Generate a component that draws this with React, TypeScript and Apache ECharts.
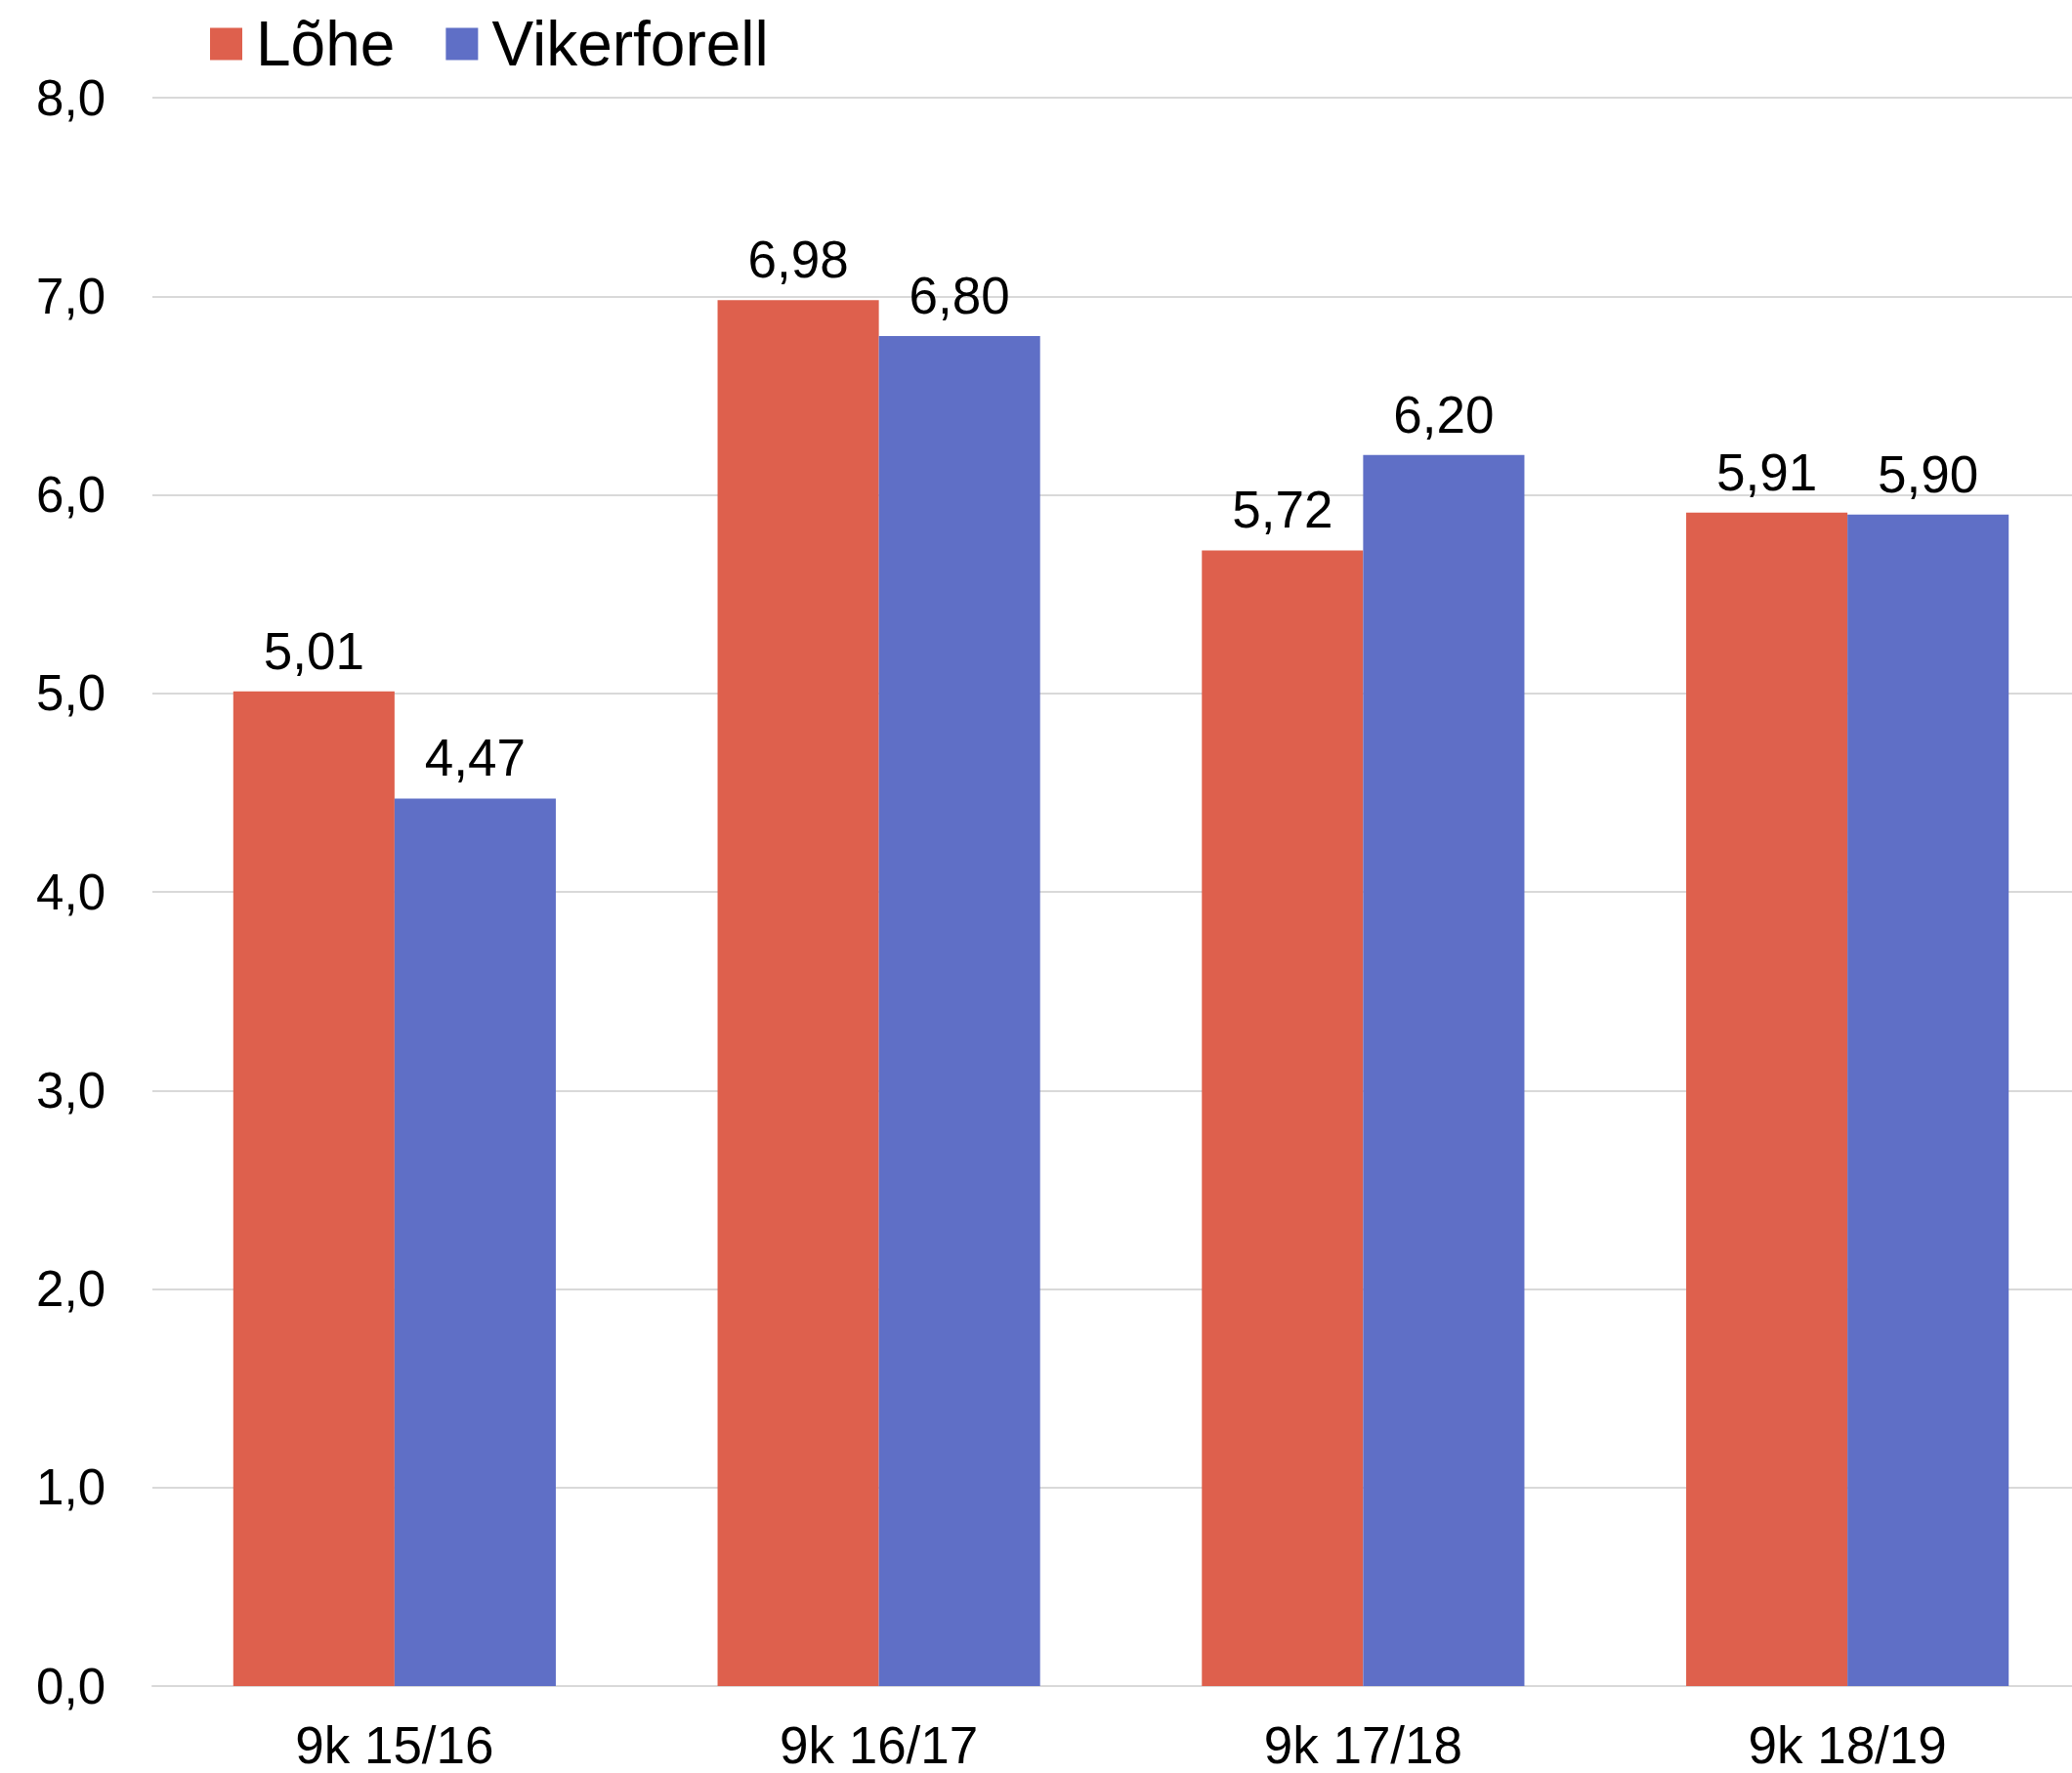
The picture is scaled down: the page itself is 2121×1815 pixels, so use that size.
import React, { useEffect, useRef } from "react";
import * as echarts from "echarts";

const categories = ["9k 15/16", "9k 16/17", "9k 17/18", "9k 18/19"];
const seriesNames = ["Lõhe", "Vikerforell"];
const lohe = [5.01, 6.98, 5.72, 5.91];
const vikerforell = [4.47, 6.8, 6.2, 5.9];
const colors = ["#DE604D", "#5F6FC6"];

const FONT = "'Liberation Sans', Arial, sans-serif";
const fmt = (v: number, d: number) => v.toFixed(d).replace(".", ",");

export default function App() {
  const ref = useRef<HTMLDivElement>(null);
  useEffect(() => {
    document.body.style.margin = "0";
    const chart = echarts.init(ref.current!, null, { renderer: "svg" });
    const label = {
      show: true,
      position: "top" as const,
      distance: 15,
      color: "#000",
      fontSize: 53,
      fontFamily: FONT,
      formatter: (p: any) => fmt(p.value, 2),
    };
    chart.setOption({
      animation: false,
      backgroundColor: "#fff",
      legend: {
        top: 8,
        left: 210,
        itemWidth: 33,
        itemHeight: 33,
        itemGap: 52,
        icon: "rect",
        textStyle: {
          fontSize: 64,
          fontFamily: FONT,
          color: "#000",
          padding: [0, 0, 0, 9],
        },
        data: seriesNames,
      },
      grid: {
        left: 156,
        width: 1983,
        top: 100,
        height: 1626,
        containLabel: false,
        outerBoundsMode: "none",
      },
      xAxis: {
        type: "category",
        data: categories,
        axisTick: { show: false },
        axisLine: { lineStyle: { color: "#d9d9d9", width: 2 } },
        axisLabel: {
          color: "#000",
          fontSize: 53,
          fontFamily: FONT,
          margin: 34,
        },
      },
      yAxis: {
        type: "value",
        min: 0,
        max: 8,
        interval: 1,
        axisLine: { show: false },
        axisTick: { show: false },
        splitLine: { lineStyle: { color: "#d9d9d9", width: 2 } },
        axisLabel: {
          color: "#000",
          fontSize: 51,
          fontFamily: FONT,
          margin: 48,
          formatter: (v: number) => fmt(v, 1),
        },
      },
      series: [
        {
          name: seriesNames[0],
          type: "bar",
          data: lohe,
          barGap: "0%",
          barCategoryGap: "33.4%",
          itemStyle: { color: colors[0] },
          label,
        },
        {
          name: seriesNames[1],
          type: "bar",
          data: vikerforell,
          barGap: "0%",
          barCategoryGap: "33.4%",
          itemStyle: { color: colors[1] },
          label,
        },
      ],
    });
    return () => chart.dispose();
  }, []);
  return <div ref={ref} style={{ width: 2121, height: 1815 }} />;
}
